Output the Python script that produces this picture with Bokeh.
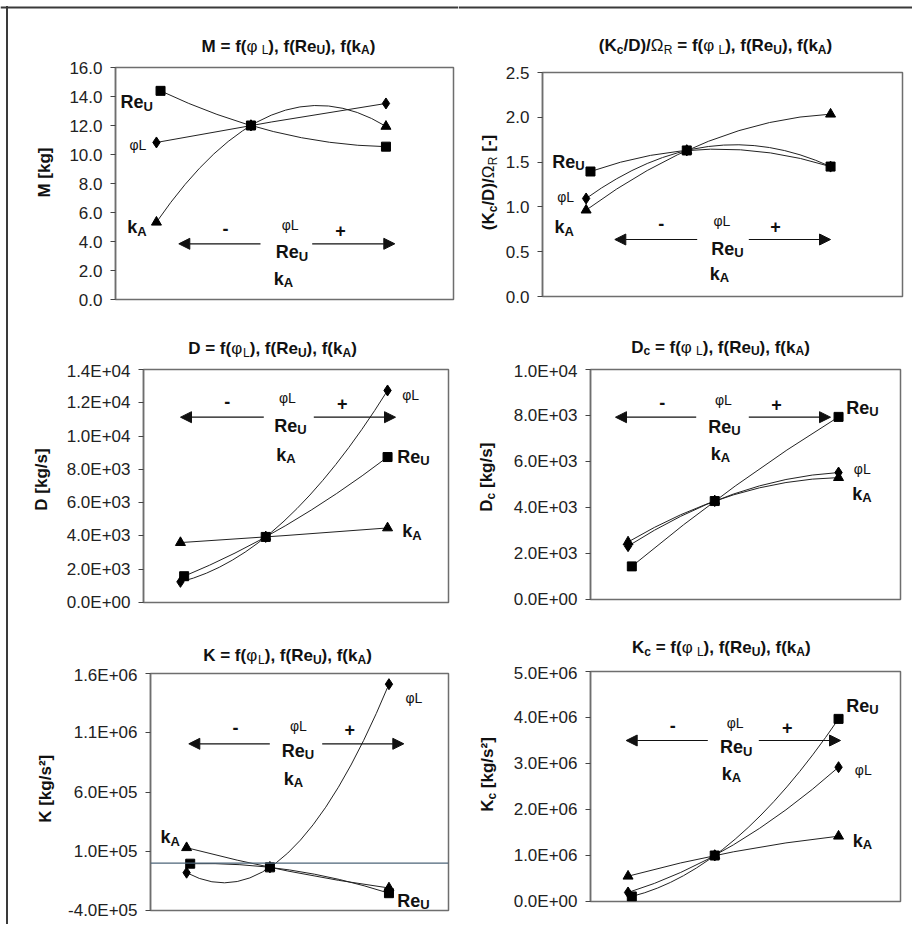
import math
import numpy as np
from bokeh.plotting import figure
from bokeh.layouts import column, row
from bokeh.models import Label, Arrow, NormalHead, FixedTicker, Span, Range1d
from bokeh.embed import file_html
from bokeh.resources import INLINE

# ---------------- data ----------------
# relative parameter levels ( - , reference , + )
x_levels = [0.7, 1.0, 1.4286]
x_levels_ReU = [0.713, 1.0, 1.4286]

M_phiL = [10.83, 12.0, 13.52]
M_ReU = [14.39, 12.0, 10.54]
M_kA = [5.33, 12.0, 11.94]
M_ticks = [0, 2, 4, 6, 8, 10, 12, 14, 16]
M_tick_labels = ["0.0", "2.0", "4.0", "6.0", "8.0", "10.0", "12.0", "14.0", "16.0"]

R_phiL = [1.094, 1.63, 1.45]
R_ReU = [1.395, 1.63, 1.45]
R_kA = [0.964, 1.63, 2.035]
R_ticks = [0.0, 0.5, 1.0, 1.5, 2.0, 2.5]
R_tick_labels = ["0.0", "0.5", "1.0", "1.5", "2.0", "2.5"]

D_phiL = [1240, 3940, 12740]
D_ReU = [1580, 3940, 8740]
D_kA = [3600, 3940, 4480]
D_ticks = [0, 2000, 4000, 6000, 8000, 10000, 12000, 14000]
D_tick_labels = ["0.0E+00", "2.0E+03", "4.0E+03", "6.0E+03", "8.0E+03", "1.0E+04", "1.2E+04", "1.4E+04"]

Dc_phiL = [2320, 4280, 5520]
Dc_ReU = [1440, 4280, 7940]
Dc_kA = [2500, 4280, 5300]
Dc_ticks = [0, 2000, 4000, 6000, 8000, 10000]
Dc_tick_labels = ["0.0E+00", "2.0E+03", "4.0E+03", "6.0E+03", "8.0E+03", "1.0E+04"]

K_phiL = [-81000, -36000, 1510000]
K_ReU = [-5000, -36000, -254000]
K_kA = [130000, -36000, -210000]
K_ticks = [-400000, 100000, 600000, 1100000, 1600000]
K_tick_labels = ["-4.0E+05", "1.0E+05", "6.0E+05", "1.1E+06", "1.6E+06"]

Kc_phiL = [196000, 1000000, 2920000]
Kc_ReU = [110000, 1000000, 3970000]
Kc_kA = [550000, 1000000, 1420000]
Kc_ticks = [0, 1000000, 2000000, 3000000, 4000000, 5000000]
Kc_tick_labels = ["0.0E+00", "1.0E+06", "2.0E+06", "3.0E+06", "4.0E+06", "5.0E+06"]

X_RANGE = (0.57, 1.643)

# ---------------- text metrics (Arial / Liberation Sans) ----------------
WR = {' ': 278, '(': 333, ')': 333, '.': 278, ',': 278, '/': 278, '-': 333, '+': 584, '=': 584,
      '[': 278, ']': 278, 'E': 667, 'K': 667, 'D': 722, 'M': 833, 'R': 722, 'c': 500, 'e': 556,
      'f': 278, 'g': 556, 'k': 500, 's': 500, 'L': 556, 'U': 722, 'A': 667, 'Ω': 768, 'φ': 700, '²': 333}
WB = {' ': 278, '(': 333, ')': 333, '.': 278, ',': 278, '/': 278, '-': 333, '+': 584, '=': 584,
      '[': 333, ']': 333, 'E': 667, 'K': 722, 'D': 722, 'M': 833, 'R': 722, 'c': 556, 'e': 556,
      'f': 333, 'g': 611, 'k': 556, 's': 556, 'L': 611, 'U': 722, 'A': 722, 'Ω': 768, 'φ': 700, '²': 333}
FONT = "Liberation Sans"
INK = "#111111"
BORDER = "#3a3a3a"


def tw(s, size, bold):
    tab = WB if bold else WR
    return sum(tab.get(ch, 556) for ch in s) * size / 1000.0


def B(t, s=17):
    return (t, s, True, 0)


def Rg(t, s=17):
    return (t, s, False, 0)


def SB(t, s=12):
    return (t, s, True, 4)


def SR(t):
    return (t, 12, False, 4)


RE_U = [B("Re", 18), SB("U", 13)]
K_A = [B("k", 18), SB("A", 13)]
PHI_L = [Rg("φL", 14)]


def rich(p, x, y, segs, align="left", angle=0.0, units="data"):
    widths = [tw(t, s, b) for t, s, b, d in segs]
    total = sum(widths)
    cur = {"left": 0.0, "center": -total / 2.0, "right": -total}[align]
    for (t, s, b, d), w in zip(segs, widths):
        lead = len(t) - len(t.lstrip(" "))
        adv = tw(" " * lead, s, b)
        if angle == 0:
            xo, yo = cur + adv, -d
        else:
            xo, yo = d, cur + adv
        p.add_layout(Label(x=x, y=y, x_units=units, y_units=units, x_offset=xo, y_offset=yo,
                           text=t.strip(" "), angle=angle,
                           text_align="left", text_baseline="alphabetic", text_font=FONT,
                           text_font_size=f"{s}px", text_font_style="bold" if b else "normal",
                           text_color=INK))
        cur += w


def trend(p, xs, ys):
    a, b, c = np.polyfit(xs, ys, 2)
    x0, x2 = xs[0], xs[-1]
    y0 = a * x0 * x0 + b * x0 + c
    y2 = a * x2 * x2 + b * x2 + c
    s0 = 2 * a * x0 + b
    cx = (x0 + x2) / 2.0
    cy = y0 + s0 * (x2 - x0) / 2.0
    p.quadratic(x0=[x0], y0=[y0], x1=[x2], y1=[y2], cx=[cx], cy=[cy], line_color="#222222", line_width=1)


def title_segs(lead, phi_space=True):
    return lead + [Rg("φ"), SR(" L" if phi_space else "L"), B("), f(Re"), SB("U"), B("), f(k"), SB("A"), B(")")]


panels = [
    dict(series=(M_phiL, M_ReU, M_kA), yr=(0, 16), ticks=M_ticks, labels=M_tick_labels,
         frame=(115, 67, 338, 232),
         title=((288, 45.7), title_segs([B("M = f(")])),
         ylab=((44, 172), [B("M [kg]")]),
         arrow=(243.3, 260, 178.3, 311.7, 394.3), minus=(225, 228), plus=(340, 230),
         c_phi=(290, 224), c_re=(291.5, 251.7), c_k=(283, 278.3),
         s_phi=(129, 144.3), s_re=(120, 101.7), s_k=(126.7, 226.7)),
    dict(series=(R_phiL, R_ReU, R_kA), yr=(0, 2.5), ticks=R_ticks, labels=R_tick_labels,
         frame=(542, 72, 360, 224),
         title=((715, 45), title_segs([B("(K"), SB("c"), B("/D)/"), Rg("Ω"), SR("R"), B(" = f(")])),
         ylab=((488, 182), [B("(K"), SB("c"), B("/D)/"), Rg("Ω"), SR("R"), B(" [-]")]),
         arrow=(239, 696.7, 614.3, 748.3, 830), minus=(660.7, 222.7), plus=(775, 226),
         c_phi=(721.7, 220), c_re=(727, 248.3), c_k=(719, 273.3),
         s_phi=(556.7, 196.7), s_re=(551.7, 161), s_k=(554, 226.7)),
    dict(series=(D_phiL, D_ReU, D_kA), yr=(0, 14000), ticks=D_ticks, labels=D_tick_labels,
         frame=(143, 369, 305, 233),
         title=((272, 348.3), title_segs([B("D = f(")], phi_space=False)),
         ylab=((41, 479), [B("D [kg/s]")]),
         arrow=(416.7, 263.3, 180, 313.3, 395), minus=(226.7, 401), plus=(341.7, 402.7),
         c_phi=(287.3, 397.3), c_re=(290, 425), c_k=(285.5, 454),
         s_phi=(401.7, 394), s_re=(396.7, 456), s_k=(401.7, 530.7)),
    dict(series=(Dc_phiL, Dc_ReU, Dc_kA), yr=(0, 10000), ticks=Dc_ticks, labels=Dc_tick_labels,
         frame=(590, 369, 310, 230),
         title=((720, 346.7), title_segs([B("D"), SB("c"), B(" = f(")])),
         ylab=((486, 476.7), [B("D"), SB("c"), B(" [kg/s]")]),
         arrow=(416.7, 695.7, 615, 748.3, 830), minus=(661.7, 401.7), plus=(776, 404),
         c_phi=(723.3, 399), c_re=(724, 426), c_k=(720, 453.3),
         s_phi=(853.3, 468.3), s_re=(845.7, 407.3), s_k=(851.7, 493.3)),
    dict(series=(K_phiL, K_ReU, K_kA), yr=(-400000, 1600000), ticks=K_ticks, labels=K_tick_labels,
         frame=(150, 673, 298, 237),
         title=((287, 655), title_segs([B("K = f(")], phi_space=False)),
         ylab=((45, 788.3), [B("K [kg/s²]")]),
         arrow=(743.3, 269.3, 188.3, 321.7, 403.3), minus=(235, 727.3), plus=(349.3, 729.3),
         c_phi=(298.3, 725), c_re=(297.5, 750), c_k=(293, 778.3),
         s_phi=(405, 697.3), s_re=(396.7, 900), s_k=(160, 836.7), zero=True),
    dict(series=(Kc_phiL, Kc_ReU, Kc_kA), yr=(0, 5000000), ticks=Kc_ticks, labels=Kc_tick_labels,
         frame=(590, 671, 310, 230),
         title=((720.8, 647.3), title_segs([B("K"), SB("c"), B(" = f(")])),
         ylab=((487, 774), [B("K"), SB("c"), B(" [kg/s²]")]),
         arrow=(740, 707.3, 625.7, 758.3, 840), minus=(672.3, 725), plus=(786.7, 726.7),
         c_phi=(735, 722.7), c_re=(735.8, 746.7), c_k=(731, 773.3),
         s_phi=(854.3, 769.3), s_re=(845.7, 705), s_k=(852.3, 840)),
]

COLS = [(0, 458), (458, 912)]
ROWS = [(0, 312), (312, 617), (617, 924)]
YLAB_W = [55, 44]


def text_fig(w, h, xr, yr):
    f = figure(width=w, height=h, x_range=Range1d(*xr), y_range=Range1d(*yr),
               x_axis_location=None, y_axis_location=None, toolbar_location=None,
               output_backend="svg", min_border=0)
    f.outline_line_color = None
    f.grid.visible = False
    f.background_fill_alpha = 0
    f.border_fill_alpha = 0
    return f


def build_panel(g, ci, ri):
    px0, px1 = COLS[ci]
    py0, py1 = ROWS[ri]
    FL, FT, FW, FH = g["frame"]
    th = FT - py0 - 8          # title strip height
    yw = YLAB_W[ci]            # y-label strip width
    pw = px1 - px0
    mh = py1 - py0 - th

    # ---- title strip (page coordinates) ----
    tfig = text_fig(pw, th, (px0, px1), (py0 + th, py0))
    (tx, ty), tsegs = g["title"]
    rich(tfig, tx, ty, tsegs, align="center")
    if ri == 0:
        tfig.add_layout(Span(location=7, dimension="width", line_color=BORDER, line_width=2))

    # ---- y-label strip: its frame is aligned with the plot frame (page coordinates) ----
    lfig = text_fig(yw, mh, (px0, px0 + yw), (FT + FH, FT))
    (lx, ly), lsegs = g["ylab"]
    rich(lfig, lx, ly, lsegs, align="center", angle=math.pi / 2)

    # ---- main plot ----
    fx, fy = px0 + yw, py0 + th
    W, H = pw - yw, mh
    left = FL - fx
    top = FT - fy
    right = W - left - FW
    bottom = H - top - FH
    p = figure(width=W, height=H, x_range=X_RANGE, y_range=g["yr"], x_axis_location=None,
               toolbar_location=None, output_backend="svg",
               min_border_left=left, min_border_right=right, min_border_top=top, min_border_bottom=bottom)
    p.grid.visible = False
    p.background_fill_color = "white"
    p.border_fill_color = "white"
    p.outline_line_color = "#6e6e6e"
    p.outline_line_width = 1.5
    ax = p.yaxis[0]
    ax.ticker = FixedTicker(ticks=g["ticks"])
    ax.major_label_overrides = {t: l for t, l in zip(g["ticks"], g["labels"])}
    ax.major_tick_out = 5
    ax.major_tick_in = 0
    ax.minor_tick_out = 0
    ax.minor_tick_in = 0
    ax.axis_line_color = "#6e6e6e"
    ax.axis_line_width = 1.5
    ax.major_tick_line_color = "#444444"
    ax.major_label_text_font = FONT
    ax.major_label_text_font_size = "17px"
    ax.major_label_text_color = "#222222"
    ax.major_label_standoff = 8

    if g.get("zero"):
        p.add_layout(Span(location=0, dimension="width", line_color="#4d6478", line_width=1.2))

    s_phi, s_re, s_k = g["series"]
    trend(p, x_levels, s_phi)
    trend(p, x_levels_ReU, s_re)
    trend(p, x_levels, s_k)
    p.scatter(x_levels, s_phi, marker="diamond", size=11, color="black")
    p.scatter(x_levels_ReU, s_re, marker="square", size=9, color="black")
    p.scatter(x_levels, s_k, marker="triangle", size=10, color="black")

    def scr(pt):
        # page pixel -> pixels from the frame's lower-left corner (y up)
        return (pt[0] - FL, FT + FH - pt[1])

    def dat(px, py):
        x0, x1 = X_RANGE
        y0, y1 = g["yr"]
        return (x0 + (px - FL) / FW * (x1 - x0), y1 - (py - FT) / FH * (y1 - y0))

    ay, l_start, l_tip, r_start, r_tip = g["arrow"]
    for a, b in ((l_start, l_tip), (r_start, r_tip)):
        xs, yv = dat(a, ay)
        xe, _ = dat(b, ay)
        p.add_layout(Arrow(x_start=xs, y_start=yv, x_end=xe, y_end=yv, line_color=INK, line_width=1.2,
                           end=NormalHead(size=11, fill_color=INK, line_color=INK, line_width=1)))
    for key, t in (("minus", "-"), ("plus", "+")):
        sx, sy = scr(g[key])
        p.add_layout(Label(x=sx, y=sy, x_units="screen", y_units="screen", text=t, text_align="center",
                           text_baseline="middle", text_font=FONT, text_font_size="18px",
                           text_font_style="bold", text_color=INK))
    rich(p, *scr(g["c_phi"]), PHI_L, align="center", units="screen")
    rich(p, *scr(g["c_re"]), RE_U, align="center", units="screen")
    rich(p, *scr(g["c_k"]), K_A, align="center", units="screen")
    rich(p, *scr(g["s_phi"]), PHI_L, align="left", units="screen")
    rich(p, *scr(g["s_re"]), RE_U, align="left", units="screen")
    rich(p, *scr(g["s_k"]), K_A, align="left", units="screen")

    return column(tfig, row(lfig, p))


cells = [build_panel(g, i % 2, i // 2) for i, g in enumerate(panels)]
page = column(row(cells[0], cells[1]), row(cells[2], cells[3]), row(cells[4], cells[5]),
              styles={"background-image": "linear-gradient(#3a3a3a, #3a3a3a)",
                      "background-size": "2px 100%",
                      "background-position": "6px 6px",
                      "background-repeat": "no-repeat"})

open("out.html", "w").write(file_html(page, INLINE))
